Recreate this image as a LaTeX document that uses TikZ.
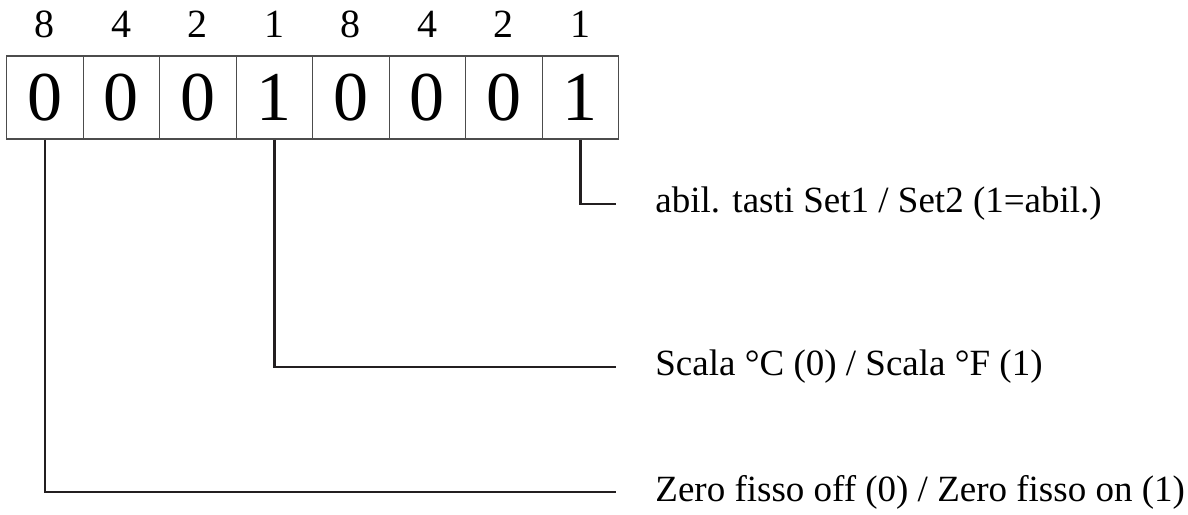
\documentclass[tikz,border=0pt]{standalone}
\usepackage{fontspec}
\setmainfont{Liberation Serif}
\usetikzlibrary{positioning}

\definecolor{inkline}{HTML}{231F20}
\tikzset{
  cell/.style={draw=black!70, line width=0.6pt, minimum width=38.25pt, minimum height=41.5pt,
    inner sep=0pt, font=\fontsize{35}{40}\selectfont},
  weight/.style={inner sep=0pt, font=\fontsize{20}{24}\selectfont},
  lead/.style={draw=inkline, line width=1.3pt},
  lbl/.style={anchor=west, inner sep=0pt, font=\fontsize{18.5}{22}\selectfont}
}

\begin{document}
\begin{tikzpicture}[x=0.5pt, y=-0.5pt, node distance=38.25pt]
    \useasboundingbox (0,0) rectangle (1188,514);
    \node[cell] (c1) at (44.95,97.5) {0};
    \node[cell, right of=c1] (c2) {0};
    \node[cell, right of=c2] (c3) {0};
    \node[cell, right of=c3] (c4) {1};
    \node[cell, right of=c4] (c5) {0};
    \node[cell, right of=c5] (c6) {0};
    \node[cell, right of=c6] (c7) {0};
    \node[cell, right of=c7] (c8) {1};
    \node[weight, above of=c1, node distance=36.5pt] (w1) {8};
    \node[weight, above of=c2, node distance=36.5pt] (w2) {4};
    \node[weight, above of=c3, node distance=36.5pt] (w3) {2};
    \node[weight, above of=c4, node distance=36.5pt] (w4) {1};
    \node[weight, above of=c5, node distance=36.5pt] (w5) {8};
    \node[weight, above of=c6, node distance=36.5pt] (w6) {4};
    \node[weight, above of=c7, node distance=36.5pt] (w7) {2};
    \node[weight, above of=c8, node distance=36.5pt] (w8) {1};
    \coordinate (e8) at (616,204);
    \coordinate (e4) at (616,367);
    \coordinate (e1) at (616,492);
    \draw[lead] (c8.south) |- (e8);
    \draw[lead] (c4.south) |- (e4);
    \draw[lead] (c1.south) |- (e1);
    \node[lbl, right=19.5pt of e8] (l8) {abil. tasti Set1 / Set2 (1=abil.)};
    \node[lbl, right=19.5pt of e4] (l4) {Scala °C (0) / Scala °F (1)};
    \node[lbl, right=19.5pt of e1] (l1) {Zero fisso off (0) / Zero fisso on (1)};
\end{tikzpicture}
\end{document}
